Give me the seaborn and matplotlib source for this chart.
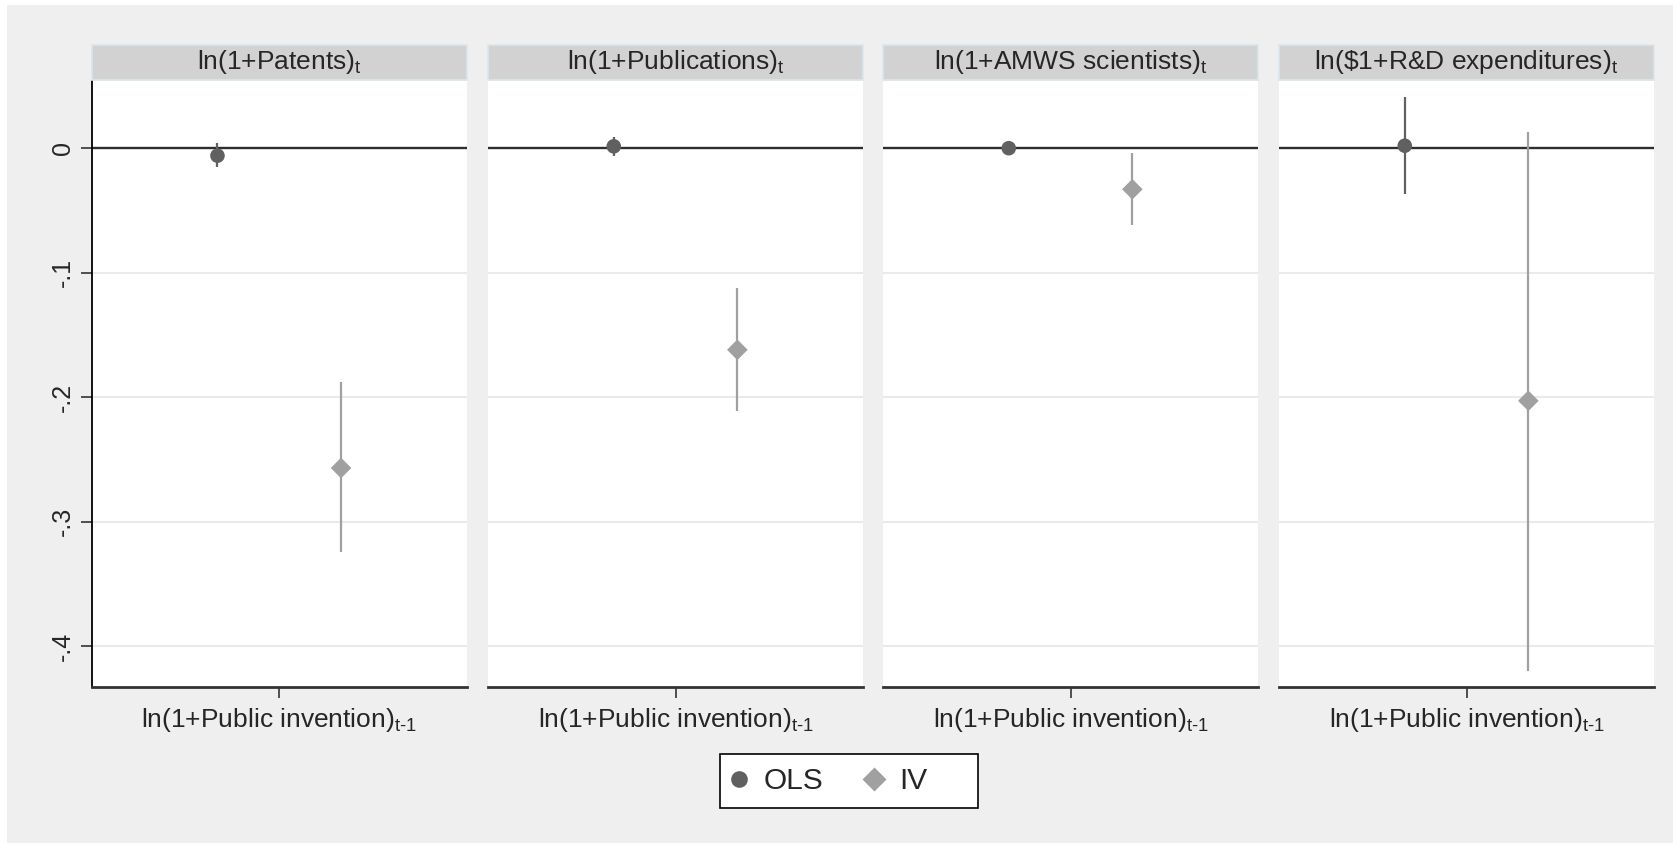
import numpy as np
import pandas as pd
import matplotlib
matplotlib.use("Agg")
import matplotlib.pyplot as plt
import seaborn as sns
from matplotlib.patches import Rectangle
from matplotlib.lines import Line2D

sns.set_style("white")
plt.rcParams['font.family'] = ['Liberation Sans', 'DejaVu Sans']
plt.rcParams['mathtext.fontset'] = 'custom'
plt.rcParams['mathtext.rm'] = 'Liberation Sans'
plt.rcParams['mathtext.it'] = 'Liberation Sans:italic'

# ---------------- data ----------------
outcomes = [r"ln(1+Patents)$_\mathregular{t}$",
            r"ln(1+Publications)$_\mathregular{t}$",
            r"ln(1+AMWS scientists)$_\mathregular{t}$",
            r"ln(\$1+R&D expenditures)$_\mathregular{t}$"]
regressor = r"ln(1+Public invention)$_\mathregular{t\text{-}1}$"
models = ["OLS", "IV"]

ols_est = [-0.006, 0.0015, 0.000, 0.002]
ols_lo = [-0.0155, -0.006, -0.002, -0.037]
ols_hi = [0.004, 0.009, 0.002, 0.041]

iv_est = [-0.257, -0.162, -0.033, -0.203]
iv_lo = [-0.3245, -0.211, -0.062, -0.420]
iv_hi = [-0.188, -0.1126, -0.0037, 0.013]

yticks = [0, -0.1, -0.2, -0.3, -0.4]
ytick_labels = ["0", "-.1", "-.2", "-.3", "-.4"]

rows = []
for i, name in enumerate(outcomes):
    rows.append(dict(outcome=name, model="OLS", est=ols_est[i], lo=ols_lo[i], hi=ols_hi[i]))
    rows.append(dict(outcome=name, model="IV", est=iv_est[i], lo=iv_lo[i], hi=iv_hi[i]))
df = pd.DataFrame(rows)

# ---------------- style ----------------
colors = {"OLS": "#606060", "IV": "#a0a0a0"}
markers = {"OLS": "o", "IV": "D"}
offsets = {"OLS": -0.165, "IV": 0.165}
df["x"] = df["model"].map(offsets)

W, H = 1673, 843
fig = plt.figure(figsize=(W / 100, H / 100), dpi=100, facecolor="white")
fig.add_artist(Rectangle((7 / W, 0), 1 - 7 / W, 1 - 5 / H, transform=fig.transFigure,
                         facecolor="#efefef", edgecolor="none", zorder=-10))

lefts = [92, 488.3, 883.3, 1279.3]
pw = 374.5
top_px, bot_px = 81, 687
ph = bot_px - top_px

for i, name in enumerate(outcomes):
    ax = fig.add_axes([lefts[i] / W, 1 - bot_px / H, pw / W, ph / H])
    ax.set_facecolor("white")
    ax.set_xlim(-0.5, 0.5)
    ax.set_ylim(-0.433, 0.054)
    ax.set_yticks(yticks)
    for y in yticks[1:]:
        ax.axhline(y, color="#eaeaea", lw=1.5, zorder=0)
    ax.axhline(0, color="#2e2e2e", lw=1.7, zorder=1)

    sub = df[df["outcome"] == name]
    for _, r in sub.iterrows():
        ax.vlines(r["x"], r["lo"], r["hi"], colors=colors[r["model"]], lw=1.6, zorder=2)
    sns.scatterplot(data=sub, x="x", y="est", hue="model", style="model",
                    palette=colors, markers=markers, s=110, edgecolor="none",
                    legend=False, ax=ax, zorder=3)
    ax.set_xlabel("")
    ax.set_ylabel("")
    ax.set_xticks([0])
    ax.set_xticklabels([regressor], fontsize=19)
    ax.tick_params(axis="x", direction="out", length=8, width=1.2, color="#333333", pad=5.5, bottom=True)

    for s in ["top", "right"]:
        ax.spines[s].set_visible(False)
    ax.spines["bottom"].set_color("#333333")
    ax.spines["bottom"].set_linewidth(2)
    if i == 0:
        ax.spines["left"].set_color("black")
        ax.spines["left"].set_linewidth(1.3)
        ax.set_yticklabels(ytick_labels, rotation=90, va="center", fontsize=18)
        ax.tick_params(axis="y", direction="out", length=8, width=1.2, color="#333333", pad=4, left=True)
    else:
        ax.spines["left"].set_visible(False)
        ax.tick_params(axis="y", left=False, labelleft=False)

    strip_h = 35 / ph
    ax.add_patch(Rectangle((0, 1.002), 1, strip_h, transform=ax.transAxes, clip_on=False,
                           facecolor="#d2d2d2", edgecolor="#dbe6ec", lw=1.2, zorder=5))
    ax.text(0.5, 1.002 + strip_h / 2, name, transform=ax.transAxes, ha="center",
            va="center", fontsize=19, zorder=6)

# legend frame (Stata-style box with extra space on the right)
bx0, bx1, by0, by1 = 720, 978, 754, 808
fig.add_artist(Rectangle((bx0 / W, 1 - by1 / H), (bx1 - bx0) / W, (by1 - by0) / H,
                         transform=fig.transFigure, facecolor="white", edgecolor="black",
                         lw=1.2, zorder=4))
handles = [Line2D([], [], ls="none", marker=markers[m], color=colors[m], markersize=12,
                  markeredgecolor="none") for m in models]
fs = 21.5
fs_px = fs * 100 / 72
leg = fig.legend(handles, models, loc="center left",
                 bbox_to_anchor=(729 / W, 1 - (by0 + by1) / 2 / H),
                 ncol=2, fontsize=fs, frameon=False, borderpad=0, borderaxespad=0,
                 handlelength=20 / fs_px, handletextpad=15 / fs_px,
                 columnspacing=40 / fs_px)
leg.set_zorder(5)

fig.savefig("out.png", dpi=100, facecolor=fig.get_facecolor())
